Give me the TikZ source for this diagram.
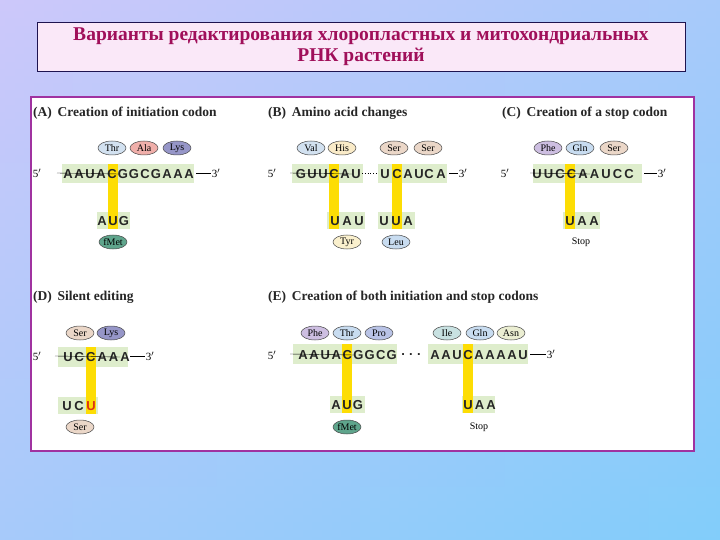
\documentclass[tikz,border=0pt]{standalone}
\usepackage{fontspec}
\setmainfont{Liberation Serif}
\newfontfamily\seqfont{Liberation Sans}
\usetikzlibrary{shapes.geometric}
\definecolor{bgA}{RGB}{205,200,250}
\definecolor{bgB}{RGB}{130,205,250}
\begin{document}
\begin{tikzpicture}[x=1pt,y=-1pt,
  let/.style={font=\seqfont\bfseries\fontsize{13}{13}\selectfont,inner sep=0pt,text=black!85},
  head/.style={font=\bfseries\fontsize{13.5}{14}\selectfont,anchor=west,inner sep=0pt,text=black!85},
  prime/.style={font=\fontsize{11}{11}\selectfont,inner sep=0pt},
  gbox/.style={fill=green!30!olive!20!white},
  ybar/.style={fill=yellow!80!orange},
  aa/.style={ellipse,draw=black!70,line width=0.5pt,minimum width=28pt,minimum height=14pt,inner sep=0pt,font=\fontsize{10}{10}\selectfont},
  lab/.style={font=\fontsize{10}{10}\selectfont,inner sep=0pt}]
\useasboundingbox (0,0) rectangle (720,540);
\shade[left color=bgA,right color=bgB] (0,0) rectangle (720,540);
\shade[top color=bgA,bottom color=bgB,opacity=0.5] (0,0) rectangle (720,540);
% title
\node[draw={rgb,255:red,30;green,20;blue,80},line width=0.8pt,fill={rgb,255:red,250;green,232;blue,248},minimum width=648pt,minimum height=49pt,inner sep=0pt] (title) at (361,46.5) {};
\node[font=\bfseries\fontsize{19.5}{21}\selectfont,text={rgb,255:red,160;green,15;blue,90},align=center] (ttext) at (title) {Варианты редактирования хлоропластных и митохондриальных\\РНК растений};
% panel
\node[draw={rgb,255:red,160;green,50;blue,160},line width=1.2pt,fill=white,minimum width=663pt,minimum height=354pt,inner sep=0pt] (panel) at (362.5,274) {};
% headings
\node[head] (hA) at (33,113) {(A)\, Creation of initiation codon};
\node[head] (hB) at (268,113) {(B)\, Amino acid changes};
\node[head] (hC) at (502,113) {(C)\, Creation of a stop codon};
\node[head] (hD) at (33,297) {(D)\, Silent editing};
\node[head] (hE) at (268,297) {(E)\, Creation of both initiation and stop codons};
% green boxes
\fill[gbox] (62,164) rectangle (194,183);
\fill[gbox] (97,212) rectangle (130,229);
\fill[gbox] (292,164) rectangle (363,183);
\fill[gbox] (378,164) rectangle (447,183);
\fill[gbox] (327,212) rectangle (365,229);
\fill[gbox] (378,212) rectangle (415,229);
\fill[gbox] (533,164) rectangle (642,183);
\fill[gbox] (563,212) rectangle (600,229);
\fill[gbox] (58,347) rectangle (128,367);
\fill[gbox] (58,397) rectangle (98,414);
\fill[gbox] (293,344) rectangle (397,364);
\fill[gbox] (428,344) rectangle (528,364);
\fill[gbox] (330,396) rectangle (365,413);
\fill[gbox] (462,396) rectangle (495,413);
% yellow bars
\fill[ybar] (108,164) rectangle (118,229);
\fill[ybar] (329,164) rectangle (339,229);
\fill[ybar] (392,164) rectangle (402,229);
\fill[ybar] (565,164) rectangle (575,229);
\fill[ybar] (86,347) rectangle (96,414);
\fill[ybar] (342,344) rectangle (352,413);
\fill[ybar] (463,344) rectangle (473,413);
% Panel A
\node[prime] (a5) at (37,173) {5$'$};
\foreach \l [count=\i] in {A,A,U,A,C,G,G,C,G,A,A,A} \node[let] (a\i) at ({68+(\i-1)*11},174) {\l};
\node[prime] (a3) at (216,173) {3$'$};
\draw ([xshift=2pt]a5.east) -- (57,173);
\draw (196,173) -- ([xshift=-1pt]a3.west);
\foreach \l [count=\i] in {A,U,G} \node[let] (am\i) at ({102+(\i-1)*11},221) {\l};
\node[aa,fill={rgb,255:red,210;green,225;blue,240}] (thrA) at (112,148) {Thr};
\node[aa,fill={rgb,255:red,240;green,175;blue,170}] (alaA) at (144,148) {Ala};
\node[aa,fill={rgb,255:red,150;green,150;blue,200}] (lysA) at (177,148) {Lys};
\node[aa,fill={rgb,255:red,95;green,165;blue,140}] (metA) at (113,242) {fMet};
% Panel B
\node[prime] (b5) at (272,173) {5$'$};
\foreach \l [count=\i] in {G,U,U,C,A,U} \node[let] (b\i) at ({301+(\i-1)*11},174) {\l};
\draw[dotted,thick] (362,173) -- (377,173);
\foreach \l/\x [count=\i] in {U/385,C/397,A/408,U/419,C/429,A/441} \node[let] (bb\i) at (\x,174) {\l};
\node[prime] (b3) at (463,173) {3$'$};
\draw ([xshift=2pt]b5.east) -- (290,173);
\draw (449,173) -- ([xshift=-1pt]b3.west);
\foreach \l [count=\i] in {U,A,U} \node[let] (bm\i) at ({335+(\i-1)*12},221) {\l};
\foreach \l [count=\i] in {U,U,A} \node[let] (bn\i) at ({384+(\i-1)*12},221) {\l};
\node[aa,fill={rgb,255:red,210;green,225;blue,240}] (valB) at (311,148) {Val};
\node[aa,fill={rgb,255:red,250;green,235;blue,200}] (hisB) at (342,148) {His};
\node[aa,fill={rgb,255:red,235;green,215;blue,200}] (ser1B) at (394,148) {Ser};
\node[aa,fill={rgb,255:red,235;green,215;blue,200}] (ser2B) at (428,148) {Ser};
\node[aa,fill={rgb,255:red,250;green,240;blue,205}] (tyrB) at (347,242) {Tyr};
\node[aa,fill={rgb,255:red,200;green,220;blue,240}] (leuB) at (396,242) {Leu};
% Panel C
\node[prime] (c5) at (505,173) {5$'$};
\foreach \l [count=\i] in {U,U,C,C,A,A,U,C,C} \node[let] (c\i) at ({537+(\i-1)*11.5},174) {\l};
\node[prime] (c3) at (662,173) {3$'$};
\draw ([xshift=2pt]c5.east) -- (530,173);
\draw (644,173) -- ([xshift=-1pt]c3.west);
\foreach \l [count=\i] in {U,A,A} \node[let] (cm\i) at ({570+(\i-1)*12},221) {\l};
\node[lab] (stopC) at (581,242) {Stop};
\node[aa,fill={rgb,255:red,205;green,190;blue,225}] (pheC) at (548,148) {Phe};
\node[aa,fill={rgb,255:red,200;green,220;blue,240}] (glnC) at (580,148) {Gln};
\node[aa,fill={rgb,255:red,235;green,215;blue,200}] (serC) at (614,148) {Ser};
% Panel D
\node[prime] (d5) at (37,356) {5$'$};
\foreach \l [count=\i] in {U,C,C,A,A,A} \node[let] (d\i) at ({68+(\i-1)*11.4},357) {\l};
\node[prime] (d3) at (150,356) {3$'$};
\draw ([xshift=2pt]d5.east) -- (55,356);
\draw (130,356) -- ([xshift=-1pt]d3.west);
\node[let] (dm1) at (67,406) {U};
\node[let] (dm2) at (79,406) {C};
\node[let,text={rgb,255:red,220;green,50;blue,20}] (dm3) at (91,406) {U};
\node[aa,fill={rgb,255:red,235;green,215;blue,200}] (serD1) at (80,333) {Ser};
\node[aa,fill={rgb,255:red,150;green,150;blue,200}] (lysD) at (111,333) {Lys};
\node[aa,fill={rgb,255:red,235;green,215;blue,200}] (serD2) at (80,427) {Ser};
% Panel E
\node[prime] (e5) at (272,355) {5$'$};
\foreach \l [count=\i] in {A,A,U,A,C,G,G,C,G} \node[let] (e\i) at ({303+(\i-1)*11.1},355) {\l};
\node[let] (edots) at (411,355) {.\,\,.\,\,.};
\foreach \l [count=\i] in {A,A,U,C,A,A,A,A,U} \node[let] (ee\i) at ({435+(\i-1)*11},355) {\l};
\node[prime] (e3) at (551,354) {3$'$};
\draw ([xshift=2pt]e5.east) -- (290,354);
\draw (530,354) -- ([xshift=-1pt]e3.west);
\foreach \l [count=\i] in {A,U,G} \node[let] (em\i) at ({336+(\i-1)*11},405) {\l};
\foreach \l [count=\i] in {U,A,A} \node[let] (en\i) at ({468+(\i-1)*11.5},405) {\l};
\node[aa,fill={rgb,255:red,205;green,190;blue,225}] (pheE) at (315,333) {Phe};
\node[aa,fill={rgb,255:red,200;green,220;blue,240}] (thrE) at (347,333) {Thr};
\node[aa,fill={rgb,255:red,185;green,195;blue,230}] (proE) at (379,333) {Pro};
\node[aa,fill={rgb,255:red,200;green,225;blue,225}] (ileE) at (447,333) {Ile};
\node[aa,fill={rgb,255:red,200;green,220;blue,240}] (glnE) at (480,333) {Gln};
\node[aa,fill={rgb,255:red,235;green,238;blue,210}] (asnE) at (511,333) {Asn};
\node[aa,fill={rgb,255:red,95;green,165;blue,140}] (metE) at (347,427) {fMet};
\node[lab] (stopE) at (479,427) {Stop};
\end{tikzpicture}
\end{document}
